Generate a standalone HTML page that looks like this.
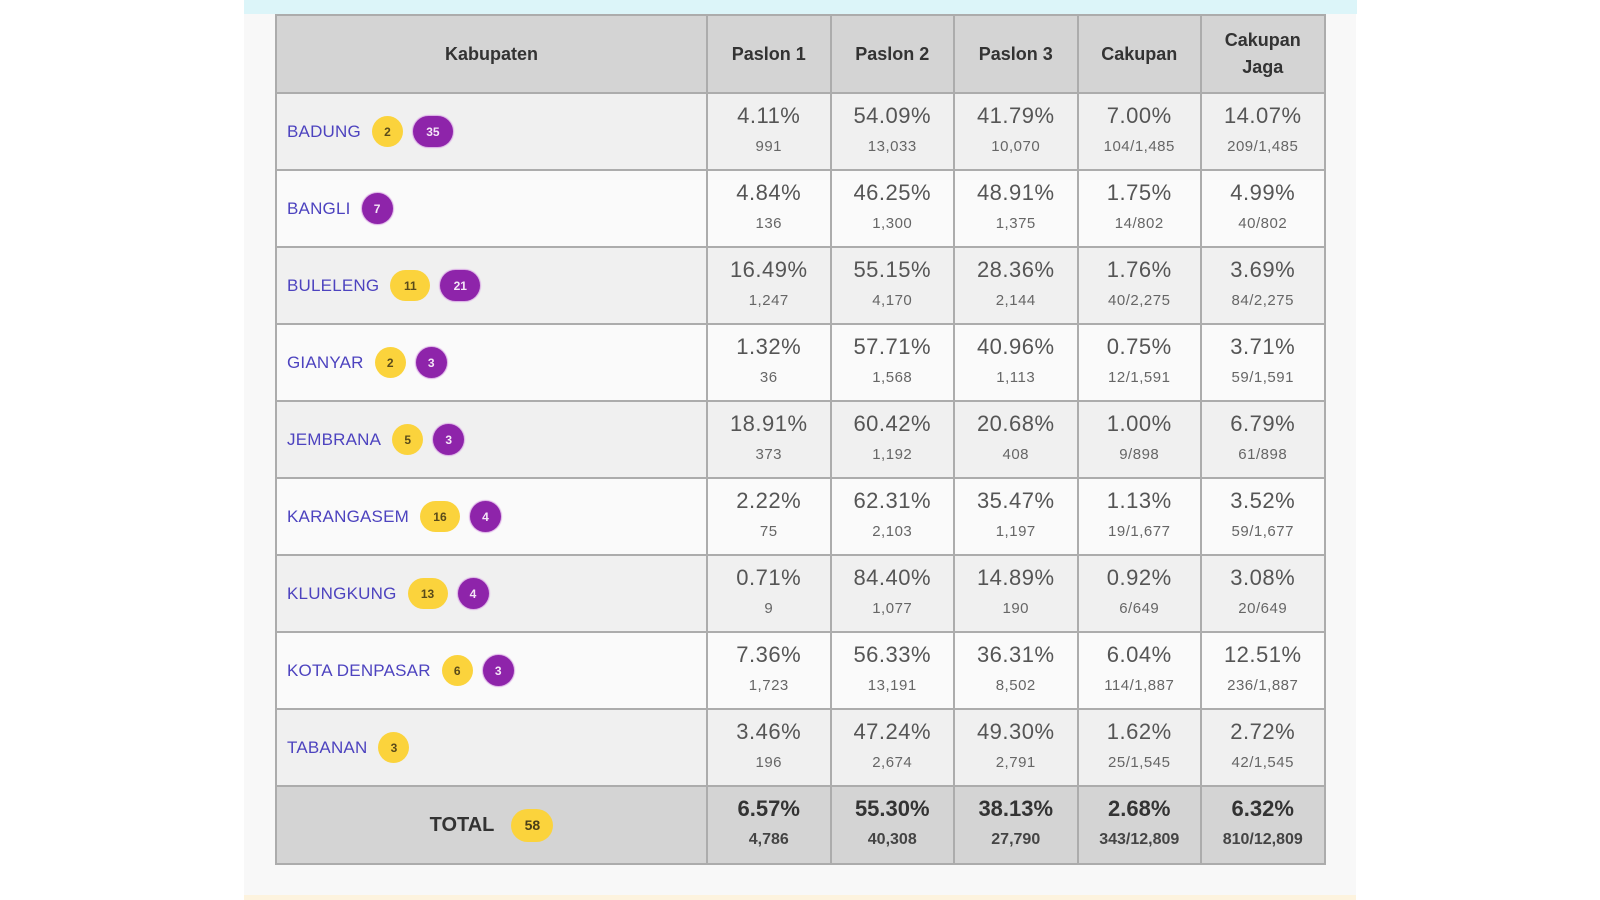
<!DOCTYPE html>
<html><head><meta charset="utf-8">
<style>
html,body{margin:0;padding:0;background:#fff;width:1600px;height:900px;overflow:hidden;font-family:"Liberation Sans",Arial,sans-serif;}
.wrap{position:absolute;left:244px;top:0;width:1112px;height:900px;background:#f8f8f8;}
.cyan{position:absolute;left:244px;top:0;width:1113px;height:14px;background:#dcf5f9;}
.cream{position:absolute;left:244px;top:895px;width:1112px;height:5px;background:#fdf3de;}
.grid{position:absolute;left:275px;top:14px;display:grid;grid-template-columns:429px repeat(5,121.5px);grid-template-rows:76px repeat(9,75px) 76px;gap:2px;padding:2px;background:#acacac;}
.c{box-sizing:border-box;text-align:center;}
.h{background:#d4d4d4;color:#333;font-weight:bold;font-size:18px;display:flex;align-items:center;justify-content:center;line-height:27px;}
.o{background:#f0f0f0;}
.e{background:#fafafa;}
.t{background:#d4d4d4;}
.n{display:flex;align-items:center;padding-left:10px;text-align:left;}
.nm{font-size:17px;color:#4d43bf;margin-right:11px;letter-spacing:0.2px;}
.b{display:inline-flex;align-items:center;justify-content:center;height:31px;width:31px;border-radius:16px;font-size:12px;font-weight:bold;margin-right:10px;box-sizing:border-box;}
.b2{width:40px;}
.y{background:#fbd33c;color:#5a4b1a;}
.p{background:#8e24aa;color:#f4e6f7;box-shadow:0 0 1px 1px #d9a8e4;}
.v{padding-top:9px;}
.pc{font-size:22px;line-height:26px;color:#555;letter-spacing:0.5px;}
.sb{font-size:15px;line-height:26px;color:#666;letter-spacing:0.5px;margin-top:5px;}
.t .pc{font-weight:bold;color:#333;letter-spacing:0;}
.t .sb{font-weight:bold;color:#444;font-size:16px;letter-spacing:0;}
.tot{display:flex;align-items:center;justify-content:center;}
.tl{font-size:20px;font-weight:bold;color:#333;margin-right:17px;}
.tb{display:inline-flex;align-items:center;justify-content:center;width:42px;height:33px;border-radius:17px;background:#fbd33c;color:#4a3f18;font-weight:bold;font-size:14px;}
</style></head><body>
<div class="wrap"></div>
<div class="cyan"></div>
<div class="cream"></div>
<div class="grid">
<div class="c h">Kabupaten</div>
<div class="c h">Paslon 1</div>
<div class="c h">Paslon 2</div>
<div class="c h">Paslon 3</div>
<div class="c h">Cakupan</div>
<div class="c h">Cakupan<br>Jaga</div>

<div class="c o n"><span class="nm">BADUNG</span><span class="b y">2</span><span class="b b2 p">35</span></div>
<div class="c o v"><div class="pc">4.11%</div><div class="sb">991</div></div>
<div class="c o v"><div class="pc">54.09%</div><div class="sb">13,033</div></div>
<div class="c o v"><div class="pc">41.79%</div><div class="sb">10,070</div></div>
<div class="c o v"><div class="pc">7.00%</div><div class="sb">104/1,485</div></div>
<div class="c o v"><div class="pc">14.07%</div><div class="sb">209/1,485</div></div>

<div class="c e n"><span class="nm">BANGLI</span><span class="b p">7</span></div>
<div class="c e v"><div class="pc">4.84%</div><div class="sb">136</div></div>
<div class="c e v"><div class="pc">46.25%</div><div class="sb">1,300</div></div>
<div class="c e v"><div class="pc">48.91%</div><div class="sb">1,375</div></div>
<div class="c e v"><div class="pc">1.75%</div><div class="sb">14/802</div></div>
<div class="c e v"><div class="pc">4.99%</div><div class="sb">40/802</div></div>

<div class="c o n"><span class="nm">BULELENG</span><span class="b b2 y">11</span><span class="b b2 p">21</span></div>
<div class="c o v"><div class="pc">16.49%</div><div class="sb">1,247</div></div>
<div class="c o v"><div class="pc">55.15%</div><div class="sb">4,170</div></div>
<div class="c o v"><div class="pc">28.36%</div><div class="sb">2,144</div></div>
<div class="c o v"><div class="pc">1.76%</div><div class="sb">40/2,275</div></div>
<div class="c o v"><div class="pc">3.69%</div><div class="sb">84/2,275</div></div>

<div class="c e n"><span class="nm">GIANYAR</span><span class="b y">2</span><span class="b p">3</span></div>
<div class="c e v"><div class="pc">1.32%</div><div class="sb">36</div></div>
<div class="c e v"><div class="pc">57.71%</div><div class="sb">1,568</div></div>
<div class="c e v"><div class="pc">40.96%</div><div class="sb">1,113</div></div>
<div class="c e v"><div class="pc">0.75%</div><div class="sb">12/1,591</div></div>
<div class="c e v"><div class="pc">3.71%</div><div class="sb">59/1,591</div></div>

<div class="c o n"><span class="nm">JEMBRANA</span><span class="b y">5</span><span class="b p">3</span></div>
<div class="c o v"><div class="pc">18.91%</div><div class="sb">373</div></div>
<div class="c o v"><div class="pc">60.42%</div><div class="sb">1,192</div></div>
<div class="c o v"><div class="pc">20.68%</div><div class="sb">408</div></div>
<div class="c o v"><div class="pc">1.00%</div><div class="sb">9/898</div></div>
<div class="c o v"><div class="pc">6.79%</div><div class="sb">61/898</div></div>

<div class="c e n"><span class="nm">KARANGASEM</span><span class="b b2 y">16</span><span class="b p">4</span></div>
<div class="c e v"><div class="pc">2.22%</div><div class="sb">75</div></div>
<div class="c e v"><div class="pc">62.31%</div><div class="sb">2,103</div></div>
<div class="c e v"><div class="pc">35.47%</div><div class="sb">1,197</div></div>
<div class="c e v"><div class="pc">1.13%</div><div class="sb">19/1,677</div></div>
<div class="c e v"><div class="pc">3.52%</div><div class="sb">59/1,677</div></div>

<div class="c o n"><span class="nm">KLUNGKUNG</span><span class="b b2 y">13</span><span class="b p">4</span></div>
<div class="c o v"><div class="pc">0.71%</div><div class="sb">9</div></div>
<div class="c o v"><div class="pc">84.40%</div><div class="sb">1,077</div></div>
<div class="c o v"><div class="pc">14.89%</div><div class="sb">190</div></div>
<div class="c o v"><div class="pc">0.92%</div><div class="sb">6/649</div></div>
<div class="c o v"><div class="pc">3.08%</div><div class="sb">20/649</div></div>

<div class="c e n"><span class="nm">KOTA DENPASAR</span><span class="b y">6</span><span class="b p">3</span></div>
<div class="c e v"><div class="pc">7.36%</div><div class="sb">1,723</div></div>
<div class="c e v"><div class="pc">56.33%</div><div class="sb">13,191</div></div>
<div class="c e v"><div class="pc">36.31%</div><div class="sb">8,502</div></div>
<div class="c e v"><div class="pc">6.04%</div><div class="sb">114/1,887</div></div>
<div class="c e v"><div class="pc">12.51%</div><div class="sb">236/1,887</div></div>

<div class="c o n"><span class="nm">TABANAN</span><span class="b y">3</span></div>
<div class="c o v"><div class="pc">3.46%</div><div class="sb">196</div></div>
<div class="c o v"><div class="pc">47.24%</div><div class="sb">2,674</div></div>
<div class="c o v"><div class="pc">49.30%</div><div class="sb">2,791</div></div>
<div class="c o v"><div class="pc">1.62%</div><div class="sb">25/1,545</div></div>
<div class="c o v"><div class="pc">2.72%</div><div class="sb">42/1,545</div></div>

<div class="c t tot"><span class="tl">TOTAL</span><span class="tb">58</span></div>
<div class="c t v"><div class="pc">6.57%</div><div class="sb">4,786</div></div>
<div class="c t v"><div class="pc">55.30%</div><div class="sb">40,308</div></div>
<div class="c t v"><div class="pc">38.13%</div><div class="sb">27,790</div></div>
<div class="c t v"><div class="pc">2.68%</div><div class="sb">343/12,809</div></div>
<div class="c t v"><div class="pc">6.32%</div><div class="sb">810/12,809</div></div>
</div>
</body></html>
